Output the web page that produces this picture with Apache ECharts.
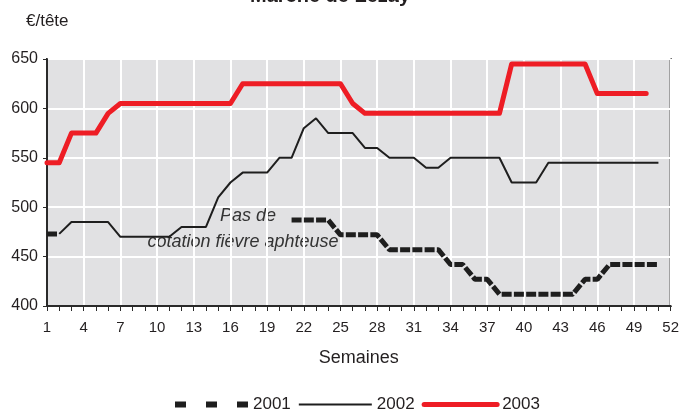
<!DOCTYPE html>
<html>
<head>
<meta charset="utf-8">
<script src="https://cdn.jsdelivr.net/npm/echarts@6/dist/echarts.min.js"></script>
<style>
  html, body { margin: 0; padding: 0; background: #fff; }
  #chart { width: 682px; height: 410px; }
</style>
</head>
<body>
<div id="chart"></div>
<script>
// semaines 1..52
const weeks = Array.from({ length: 52 }, (_, i) => String(i + 1));

// 2001 : pas de cotation semaines 3 a 20 (fievre aphteuse)
const y2001 = [
  473, 473,
  null, null, null, null, null, null, null, null, null,
  null, null, null, null, null, null, null, null, null,
  487, 487, 487, 487,
  472, 472, 472, 472,
  457, 457, 457, 457, 457,
  442, 442,
  427, 427,
  412, 412, 412, 412, 412, 412, 412,
  427, 427,
  442, 442, 442, 442, 442,
  null
];

const y2002 = [
  null, 473, 485, 485, 485, 485, 470, 470, 470, 470,
  470, 480, 480, 480, 510, 525, 535, 535, 535, 550,
  550, 580, 590, 575, 575, 575, 560, 560, 550, 550,
  550, 540, 540, 550, 550, 550, 550, 550, 525, 525,
  525, 545, 545, 545, 545, 545, 545, 545, 545, 545,
  545, null
];

const y2003 = [
  545, 545, 575, 575, 575, 595, 605, 605, 605, 605,
  605, 605, 605, 605, 605, 605, 625, 625, 625, 625,
  625, 625, 625, 625, 625, 605, 595, 595, 595, 595,
  595, 595, 595, 595, 595, 595, 595, 595, 645, 645,
  645, 645, 645, 645, 645, 615, 615, 615, 615, 615,
  null, null
];

const FONT = '"Liberation Sans", Arial, sans-serif';
const TXT = '#231f20';
const BLACK = '#1e1e1e';
const RED = '#ee1d25';

const chart = echarts.init(document.getElementById('chart'));

const option = {
  animation: false,
  textStyle: { fontFamily: FONT, color: TXT },
  title: [
    {
      text: 'Marché de Lezay',
      left: 245,
      top: -19,
      textStyle: { fontFamily: FONT, fontSize: 20, fontWeight: 'bold', color: TXT }
    },
    {
      text: '€/tête',
      left: 21,
      top: 8,
      textStyle: { fontFamily: FONT, fontSize: 17, fontWeight: 'normal', color: TXT }
    }
  ],
  grid: {
    left: 47,
    right: 10,
    top: 59,
    bottom: 104,
    show: true,
    backgroundColor: '#e1e1e3',
    borderColor: '#2a2a2a',
    borderWidth: 2
  },
  legend: {
    bottom: -3,
    left: 172,
    padding: 0,
    itemWidth: 73,
    itemHeight: 10,
    itemGap: 7,
    itemStyle: { opacity: 0 },
    textStyle: { fontFamily: FONT, fontSize: 17, color: TXT },
    data: [
      { name: '2001', lineStyle: { type: [11, 20], width: 6, color: BLACK } },
      { name: '2002', lineStyle: { width: 2, color: BLACK } },
      { name: '2003', lineStyle: { width: 5, color: RED, cap: 'round' } }
    ]
  },
  xAxis: {
    type: 'category',
    data: weeks,
    boundaryGap: false,
    name: 'Semaines',
    nameLocation: 'middle',
    nameGap: 43,
    nameTextStyle: { fontFamily: FONT, fontSize: 18, color: TXT },
    axisLine: { lineStyle: { color: '#2a2a2a', width: 2 } },
    axisTick: { show: true, interval: 0, length: 5, lineStyle: { color: '#2a2a2a' } },
    axisLabel: { interval: 2, margin: 14, fontSize: 15, color: TXT, fontFamily: FONT },
    splitLine: { show: true, interval: 2, lineStyle: { color: '#ffffff', width: 2 } }
  },
  yAxis: {
    type: 'value',
    min: 400,
    max: 650,
    interval: 50,
    axisLine: { show: true, lineStyle: { color: '#2a2a2a', width: 2 } },
    axisTick: { show: true, length: 4, lineStyle: { color: '#2a2a2a' } },
    axisLabel: { margin: 9, fontSize: 16, color: TXT, fontFamily: FONT },
    splitLine: { show: true, lineStyle: { color: '#ffffff', width: 2 } }
  },
  series: [
    {
      name: '2002',
      type: 'line',
      data: y2002,
      symbol: 'none',
      lineStyle: { color: BLACK, width: 2 },
      itemStyle: { color: BLACK }
    },
    {
      name: '2001',
      type: 'line',
      data: y2001,
      symbol: 'none',
      lineStyle: { color: BLACK, width: 5, type: [10, 2.25] },
      itemStyle: { color: BLACK }
    },
    {
      name: '2003',
      type: 'line',
      data: y2003,
      symbol: 'none',
      lineStyle: { color: RED, width: 5, cap: 'round', join: 'round' },
      itemStyle: { color: RED }
    }
  ],
  graphic: [
    {
      type: 'text',
      x: 248,
      y: 207,
      style: {
        text: 'Pas de',
        align: 'center',
        verticalAlign: 'top',
        font: 'italic 18px ' + FONT,
        fill: '#333333'
      }
    },
    {
      type: 'text',
      x: 243,
      y: 233,
      style: {
        text: 'cotation fièvre aphteuse',
        align: 'center',
        verticalAlign: 'top',
        font: 'italic 18px ' + FONT,
        fill: '#333333'
      }
    }
  ]
};

chart.setOption(option);
</script>
</body>
</html>
